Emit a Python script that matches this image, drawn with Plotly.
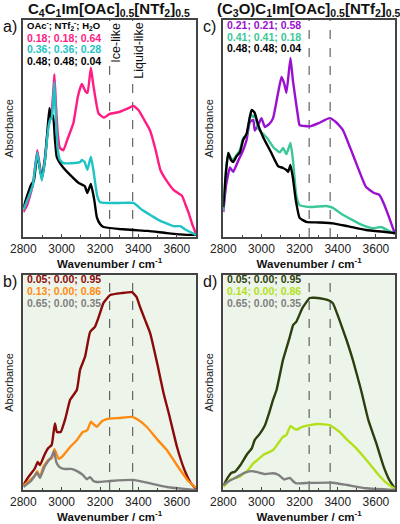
import plotly.graph_objects as go

# ---------------- Panel a: C4C1Im[OAc]0.5[NTf2]0.5 ----------------
a_pink_wn = [2800, 2820, 2850, 2873, 2896, 2913, 2930, 2945, 2955, 2962, 2970, 2980, 2991, 3009, 3030, 3061, 3085, 3105, 3125, 3135, 3152, 3165, 3192, 3220, 3250, 3300, 3340, 3374, 3400, 3430, 3461, 3490, 3514, 3550, 3583, 3610, 3627, 3645, 3662, 3680, 3700]
a_pink_ab = [0.115, 0.147, 0.24, 0.40, 0.27, 0.37, 0.51, 0.56, 0.65, 0.75, 0.61, 0.47, 0.41, 0.40, 0.45, 0.525, 0.65, 0.705, 0.67, 0.665, 0.78, 0.70, 0.57, 0.55, 0.567, 0.576, 0.59, 0.604, 0.585, 0.54, 0.49, 0.40, 0.31, 0.255, 0.217, 0.20, 0.19, 0.15, 0.11, 0.06, 0.015]

a_cyan_wn = [2800, 2830, 2850, 2873, 2896, 2913, 2930, 2940, 2948, 2955, 2962, 2970, 2980, 2991, 3010, 3050, 3096, 3105, 3120, 3134, 3152, 3165, 3185, 3200, 3235, 3300, 3374, 3420, 3470, 3514, 3583, 3618, 3640, 3670, 3700]
a_cyan_ab = [0.124, 0.19, 0.24, 0.39, 0.26, 0.355, 0.50, 0.54, 0.55, 0.61, 0.714, 0.54, 0.40, 0.355, 0.34, 0.34, 0.345, 0.355, 0.345, 0.31, 0.37, 0.31, 0.19, 0.16, 0.157, 0.157, 0.157, 0.124, 0.097, 0.074, 0.05, 0.05, 0.037, 0.023, 0.01]

a_black_wn = [2800, 2820, 2840, 2855, 2873, 2896, 2913, 2925, 2936, 2945, 2955, 2965, 2974, 2991, 3010, 3044, 3087, 3120, 3134, 3152, 3170, 3183, 3200, 3218, 3300, 3374, 3450, 3548, 3650, 3700]
a_black_ab = [0.134, 0.19, 0.24, 0.26, 0.38, 0.27, 0.355, 0.48, 0.594, 0.55, 0.56, 0.45, 0.37, 0.34, 0.318, 0.286, 0.25, 0.235, 0.203, 0.244, 0.17, 0.092, 0.06, 0.046, 0.037, 0.032, 0.028, 0.018, 0.01, 0.01]

# ---------------- Panel b ----------------
b_red_wn = [2800, 2830, 2860, 2875, 2887, 2910, 2930, 2948, 2958, 2965, 2975, 2995, 3020, 3044, 3079, 3096, 3122, 3148, 3174, 3195, 3218, 3253, 3314, 3366, 3390, 3409, 3435, 3461, 3500, 3531, 3560, 3601, 3640, 3670, 3700]
b_red_ab = [0.023, 0.065, 0.10, 0.13, 0.116, 0.163, 0.195, 0.21, 0.27, 0.31, 0.27, 0.27, 0.335, 0.42, 0.465, 0.56, 0.62, 0.735, 0.76, 0.81, 0.87, 0.907, 0.916, 0.92, 0.898, 0.85, 0.79, 0.73, 0.58, 0.45, 0.35, 0.20, 0.093, 0.037, 0.005]

b_orange_wn = [2800, 2830, 2860, 2872, 2887, 2904, 2930, 2950, 2962, 2972, 2985, 3000, 3044, 3080, 3110, 3125, 3135, 3152, 3165, 3183, 3210, 3235, 3300, 3366, 3400, 3444, 3500, 3548, 3590, 3618, 3660, 3700]
b_orange_ab = [0.02, 0.042, 0.065, 0.088, 0.06, 0.107, 0.14, 0.15, 0.19, 0.17, 0.145, 0.153, 0.20, 0.233, 0.27, 0.274, 0.28, 0.318, 0.307, 0.294, 0.32, 0.33, 0.335, 0.34, 0.326, 0.293, 0.233, 0.186, 0.13, 0.093, 0.042, 0.01]

b_gray_wn = [2800, 2840, 2872, 2887, 2910, 2930, 2945, 2960, 2972, 2985, 3010, 3050, 3080, 3110, 3131, 3148, 3165, 3185, 3253, 3374, 3450, 3548, 3700]
b_gray_ab = [0.014, 0.042, 0.08, 0.056, 0.107, 0.135, 0.15, 0.18, 0.13, 0.11, 0.098, 0.098, 0.088, 0.07, 0.05, 0.06, 0.042, 0.037, 0.042, 0.047, 0.033, 0.014, 0.0]

# ---------------- Panel c: (C3O)C1Im[OAc]0.5[NTf2]0.5 ----------------
c_purple_wn = [2800, 2815, 2835, 2852, 2880, 2904, 2922, 2939, 2957, 2965, 2985, 3000, 3018, 3040, 3061, 3085, 3105, 3120, 3131, 3152, 3165, 3192, 3200, 3253, 3300, 3357, 3390, 3427, 3480, 3548, 3590, 3618, 3640, 3670, 3700]
c_purple_ab = [0.115, 0.24, 0.32, 0.30, 0.355, 0.40, 0.447, 0.53, 0.54, 0.49, 0.52, 0.548, 0.507, 0.52, 0.548, 0.654, 0.737, 0.705, 0.664, 0.825, 0.72, 0.553, 0.516, 0.51, 0.525, 0.548, 0.53, 0.493, 0.378, 0.23, 0.203, 0.194, 0.157, 0.088, 0.014]

c_green_wn = [2800, 2815, 2826, 2840, 2852, 2870, 2887, 2904, 2922, 2939, 2948, 2957, 2965, 2983, 3009, 3030, 3061, 3096, 3113, 3131, 3152, 3165, 3183, 3200, 3253, 3340, 3375, 3420, 3478, 3530, 3583, 3627, 3660, 3700]
c_green_ab = [0.124, 0.31, 0.387, 0.364, 0.355, 0.378, 0.40, 0.456, 0.47, 0.548, 0.562, 0.553, 0.562, 0.50, 0.475, 0.456, 0.415, 0.39, 0.41, 0.382, 0.433, 0.355, 0.19, 0.147, 0.138, 0.143, 0.134, 0.106, 0.078, 0.055, 0.041, 0.046, 0.032, 0.014]

c_black_wn = [2800, 2815, 2826, 2840, 2852, 2870, 2887, 2904, 2922, 2939, 2948, 2957, 2965, 2983, 3009, 3030, 3052, 3087, 3113, 3131, 3140, 3152, 3165, 3180, 3200, 3235, 3300, 3375, 3450, 3548, 3650, 3700]
c_black_ab = [0.138, 0.31, 0.387, 0.355, 0.346, 0.373, 0.39, 0.447, 0.475, 0.553, 0.585, 0.58, 0.571, 0.516, 0.46, 0.424, 0.387, 0.327, 0.318, 0.309, 0.30, 0.332, 0.272, 0.17, 0.088, 0.07, 0.067, 0.063, 0.05, 0.032, 0.023, 0.018]

# ---------------- Panel d ----------------
d_olive_wn = [2800, 2825, 2843, 2861, 2890, 2922, 2950, 2965, 2990, 3018, 3040, 3061, 3079, 3113, 3148, 3166, 3183, 3215, 3253, 3279, 3330, 3357, 3375, 3409, 3445, 3479, 3522, 3560, 3601, 3640, 3670, 3700]
d_olive_ab = [0.02, 0.06, 0.08, 0.085, 0.116, 0.163, 0.195, 0.233, 0.26, 0.30, 0.358, 0.42, 0.465, 0.605, 0.71, 0.767, 0.783, 0.847, 0.893, 0.894, 0.888, 0.88, 0.868, 0.79, 0.70, 0.605, 0.465, 0.326, 0.22, 0.11, 0.047, 0.005]

d_lime_wn = [2800, 2835, 2887, 2930, 2957, 2980, 3009, 3061, 3090, 3113, 3131, 3152, 3165, 3183, 3210, 3253, 3300, 3357, 3409, 3450, 3496, 3550, 3601, 3650, 3700]
d_lime_ab = [0.014, 0.047, 0.062, 0.093, 0.124, 0.14, 0.163, 0.186, 0.22, 0.247, 0.256, 0.298, 0.29, 0.28, 0.293, 0.302, 0.307, 0.302, 0.27, 0.233, 0.195, 0.14, 0.084, 0.037, 0.005]

d_gray_wn = [2800, 2830, 2870, 2910, 2948, 2974, 3018, 3061, 3090, 3120, 3148, 3170, 3183, 3253, 3375, 3450, 3548, 3700]
d_gray_ab = [0.023, 0.042, 0.06, 0.08, 0.088, 0.084, 0.074, 0.078, 0.07, 0.049, 0.056, 0.037, 0.031, 0.033, 0.034, 0.023, 0.008, 0.0]

# Legend / text
comp_header = "OAc<sup>-</sup>; NTf<sub>2</sub><sup>-</sup>; H<sub>2</sub>O"
a_labels = ["0.18; 0.18; 0.64", "0.36; 0.36; 0.28", "0.48; 0.48; 0.04"]
b_labels = ["0.05; 0.00; 0.95", "0.13; 0.00; 0.86", "0.65; 0.00; 0.35"]
c_labels = ["0.21; 0.21; 0.58", "0.41; 0.41; 0.18", "0.48; 0.48; 0.04"]
d_labels = ["0.05; 0.00; 0.95", "0.14; 0.00; 0.86", "0.65; 0.00; 0.35"]
title_left = "C<sub>4</sub>C<sub>1</sub>Im[OAc]<sub>0.5</sub>[NTf<sub>2</sub>]<sub>0.5</sub>"
title_right = "(C<sub>3</sub>O)C<sub>1</sub>Im[OAc]<sub>0.5</sub>[NTf<sub>2</sub>]<sub>0.5</sub>"
x_ticks = [2800, 3000, 3200, 3400, 3600]
ice_left, liquid_left = 3250, 3370
ice_right, liquid_right = 3250, 3360

C_PINK, C_CYAN, C_BLACK = "#ff1c83", "#1fc3c3", "#000000"
C_PURPLE, C_GREEN = "#9a10d0", "#3cc79a"
C_RED, C_ORANGE, C_GRAY = "#8b0a0a", "#ff8a10", "#7f7f7f"
C_OLIVE, C_LIME = "#2d3f0e", "#b2e01a"

W, H = 400, 524
def px(x): return x / W
def py(y): return 1 - y / H

fig = go.Figure()

def add(wn, ab, color, ax):
    fig.add_trace(go.Scatter(x=wn, y=ab, mode="lines",
                             line=dict(color=color, width=2.4, shape="spline", smoothing=0.4),
                             xaxis="x" + ax, yaxis="y" + ax, showlegend=False, hoverinfo="skip"))

add(a_pink_wn, a_pink_ab, C_PINK, "")
add(a_black_wn, a_black_ab, C_BLACK, "")
add(a_cyan_wn, a_cyan_ab, C_CYAN, "")
add(b_red_wn, b_red_ab, C_RED, "2")
add(b_orange_wn, b_orange_ab, C_ORANGE, "2")
add(b_gray_wn, b_gray_ab, C_GRAY, "2")
add(c_purple_wn, c_purple_ab, C_PURPLE, "3")
add(c_green_wn, c_green_ab, C_GREEN, "3")
add(c_black_wn, c_black_ab, C_BLACK, "3")
add(d_olive_wn, d_olive_ab, C_OLIVE, "4")
add(d_lime_wn, d_lime_ab, C_LIME, "4")
add(d_gray_wn, d_gray_ab, C_GRAY, "4")

xa_dom = [px(23.3), px(196)]
xc_dom = [px(223.3), px(395)]
ytop_dom = [py(237), py(20)]
ybot_dom = [py(490), py(275)]

font_fam = "Liberation Sans, Arial, sans-serif"

def xaxis(dom, anchor):
    return dict(domain=dom, anchor=anchor, range=[2800, 3700], tickvals=x_ticks, automargin=False,
                ticks="inside", ticklen=3, tickwidth=1.2, tickcolor="#444",
                minor=dict(dtick=100, tick0=2800, ticks="inside", ticklen=2, tickcolor="#444"),
                showline=True, linecolor="#444", linewidth=1.6, mirror=True,
                showgrid=False, zeroline=False,
                tickfont=dict(size=12, color="#222", family=font_fam),
                title=dict(text="<b>Wavenumber / cm<sup>-1</sup></b>", standoff=0,
                           font=dict(size=11.5, color="#111", family=font_fam)))

def yaxis(dom, anchor):
    return dict(domain=dom, anchor=anchor, range=[0, 1], showticklabels=False, ticks="", automargin=False,
                showline=True, linecolor="#444", linewidth=1.6, mirror=True,
                showgrid=False, zeroline=False,
                title=dict(text="Absorbance", standoff=6,
                           font=dict(size=11, color="#222", family=font_fam)))

fig.update_layout(
    width=W, height=H, margin=dict(l=0, r=0, t=0, b=0, autoexpand=False),
    paper_bgcolor="white", plot_bgcolor="white",
    xaxis=xaxis(xa_dom, "y"), yaxis=yaxis(ytop_dom, "x"),
    xaxis2=xaxis(xa_dom, "y2"), yaxis2=yaxis(ybot_dom, "x2"),
    xaxis3=xaxis(xc_dom, "y3"), yaxis3=yaxis(ytop_dom, "x3"),
    xaxis4=xaxis(xc_dom, "y4"), yaxis4=yaxis(ybot_dom, "x4"),
    font=dict(family=font_fam),
)

for xd in (xa_dom, xc_dom):
    fig.add_shape(type="rect", xref="paper", yref="paper", x0=xd[0], x1=xd[1],
                  y0=ybot_dom[0], y1=ybot_dom[1], fillcolor="#edf5ea", line_width=0, layer="below")

for ax, xs in (("", (ice_left, liquid_left)), ("2", (ice_left, liquid_left)),
               ("3", (ice_right, liquid_right)), ("4", (ice_right, liquid_right))):
    for xv in xs:
        fig.add_shape(type="line", xref="x" + ax, yref="y" + ax + " domain", x0=xv, x1=xv, y0=0, y1=1,
                      line=dict(color="#555", width=1.1, dash="dash"), layer="below")

ann = []
def txt(x, y, text, size, color="#000", **kw):
    d = dict(x=px(x), y=py(y), xref="paper", yref="paper", text=text, showarrow=False,
             font=dict(size=size, color=color, family=font_fam), xanchor="left", yanchor="middle")
    d.update(kw)
    ann.append(d)

txt(108.5, 10, "<b>" + title_left + "</b>", 15, "#111", xanchor="center")
txt(309, 10, "<b>" + title_right + "</b>", 15, "#111", xanchor="center")
txt(1, 26, "a)", 16, "#111")
txt(1, 281, "b)", 16, "#111")
txt(201, 26, "c)", 16, "#111")
txt(201, 281, "d)", 16, "#111")

txt(25, 25, "<b>" + comp_header + "</b>", 9.5)
for lab, col, yy in zip(a_labels, (C_PINK, C_CYAN, C_BLACK), (37.5, 49, 60.5)):
    txt(25, yy, "<b>" + lab + "</b>", 10.5, col)
for lab, col, yy in zip(c_labels, (C_PURPLE, C_GREEN, C_BLACK), (25, 36.5, 48)):
    txt(225, yy, "<b>" + lab + "</b>", 10.5, col)
for lab, col, yy in zip(b_labels, (C_RED, C_ORANGE, C_GRAY), (279, 291, 303)):
    txt(25, yy, "<b>" + lab + "</b>", 10.5, col)
for lab, col, yy in zip(d_labels, (C_OLIVE, C_LIME, C_GRAY), (279, 291, 303)):
    txt(225, yy, "<b>" + lab + "</b>", 10.5, col)

ann.append(dict(x=ice_left, y=1, xref="x", yref="y domain", text="Ice-like", textangle=-90,
                showarrow=False, xanchor="left", yanchor="top", xshift=-3, yshift=-1,
                bgcolor="white",
                font=dict(size=12.5, color="#111", family=font_fam)))
ann.append(dict(x=liquid_left, y=1, xref="x", yref="y domain", text="Liquid-like", textangle=-90,
                showarrow=False, xanchor="left", yanchor="top", xshift=-3, yshift=-1,
                bgcolor="white",
                font=dict(size=12.5, color="#111", family=font_fam)))

fig.update_layout(annotations=ann)
fig.write_html("out.html")
